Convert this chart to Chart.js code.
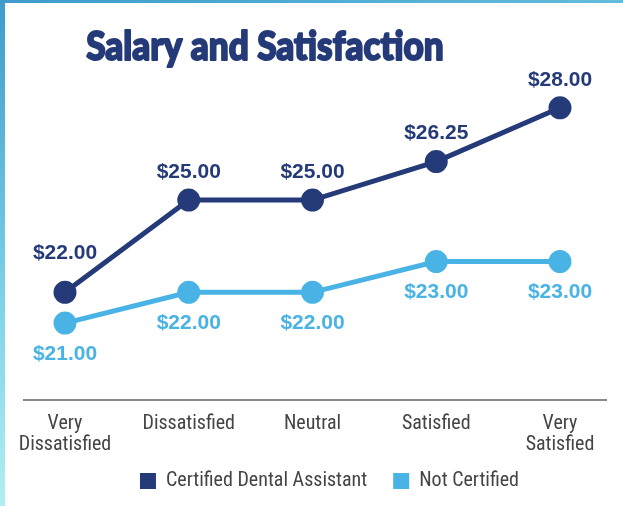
<!DOCTYPE html>
<html>
<head>
<meta charset="utf-8">
<script src="https://cdn.jsdelivr.net/npm/chart.js@4"></script>
<style>
  html, body { margin: 0; padding: 0; background: #fff; }
  #frame {
    position: absolute; left: 0; top: 0; width: 623px; height: 506px;
    background: linear-gradient(180deg, #3e9bcb 0%, #7fd3e8 60%, #b2eef2 100%);
  }
  #topbar {
    position: absolute; left: 0; top: 0; width: 623px; height: 3px;
    background: linear-gradient(90deg, #3e9bcb 0%, #62bddb 100%);
  }
  #box {
    position: absolute; left: 5px; top: 3px; width: 618px; height: 503px; background: #fff;
  }
</style>
</head>
<body>
<div id="frame"></div>
<div id="topbar"></div>
<div id="box"><canvas id="grafico" width="618" height="503"></canvas></div>
<script>
const categorias = [["Very", "Dissatisfied"], "Dissatisfied", "Neutral", "Satisfied", ["Very", "Satisfied"]];
const certificado = [22.00, 25.00, 25.00, 26.25, 28.00];
const naoCertificado = [21.00, 22.00, 22.00, 23.00, 23.00];
const titulo = "Salary and Satisfaction";

const azulEscuro = "#253a78";
const azulClaro = "#4ab3e5";
const fonteEstreita = "'Liberation Sans Narrow', 'Roboto Condensed', 'Arial Narrow', 'Liberation Sans', sans-serif";

const formatarValor = v => "$" + v.toFixed(2);

// titulo, rotulos de valor e linha de base
const rotulos = {
  id: "rotulos",
  afterLayout(chart) {
    // legenda do original: um pouco à direita do centro e mais perto do eixo
    const leg = chart.legend;
    if (leg) {
      leg.left += 17;
      leg.right += 17;
      leg.top -= 23;
      leg.bottom -= 23;
    }
  },
  afterDatasetsDraw(chart) {
    const ctx = chart.ctx;
    ctx.save();
    ctx.font = "bold 21px 'Liberation Sans', Arial, sans-serif";
    ctx.textAlign = "center";
    ctx.textBaseline = "middle";
    chart.data.datasets.forEach((ds, i) => {
      const meta = chart.getDatasetMeta(i);
      ctx.fillStyle = ds.borderColor;
      meta.data.forEach((pt, j) => {
        let dy;
        if (i === 0) dy = j === 0 ? -39 : -28;
        else dy = 31;
        ctx.fillText(formatarValor(ds.data[j]), pt.x, pt.y + dy);
      });
    });
    ctx.restore();
  },
  afterDraw(chart) {
    const ctx = chart.ctx;
    const y = chart.chartArea.bottom;
    ctx.save();
    ctx.strokeStyle = "#8a8a8a";
    ctx.lineWidth = 2;
    ctx.beginPath();
    ctx.moveTo(18, y);
    ctx.lineTo(602, y);
    ctx.stroke();

    // titulo um pouco à esquerda do centro, como no original
    ctx.translate(260, 44);
    ctx.scale(0.88, 1);
    ctx.font = "900 40px Lato, 'Open Sans', sans-serif";
    ctx.textAlign = "center";
    ctx.textBaseline = "middle";
    ctx.fillStyle = azulEscuro;
    ctx.strokeStyle = azulEscuro;
    ctx.lineWidth = 2;
    ctx.lineJoin = "round";
    ctx.fillText(titulo, 0, 0);
    ctx.strokeText(titulo, 0, 0);
    ctx.restore();
  }
};

new Chart(document.getElementById("grafico").getContext("2d"), {
  type: "line",
  data: {
    labels: categorias,
    datasets: [
      {
        label: "Certified Dental Assistant",
        data: certificado,
        borderColor: azulEscuro,
        backgroundColor: azulEscuro,
        borderWidth: 5,
        pointRadius: 9,
        pointHoverRadius: 9,
        fill: false,
      },
      {
        label: "Not Certified",
        data: naoCertificado,
        borderColor: azulClaro,
        backgroundColor: azulClaro,
        borderWidth: 5,
        pointRadius: 9,
        pointHoverRadius: 9,
        fill: false,
      },
    ],
  },
  options: {
    responsive: false,
    animation: false,
    layout: { padding: { left: 60, right: 63, top: 74, bottom: -18 } },
    plugins: {
      legend: {
        position: "bottom",
        labels: {
          boxWidth: 16,
          boxHeight: 16,
          color: "#444",
          padding: 26,
          font: { family: fonteEstreita, size: 20 },
          generateLabels(chart) {
            const itens = Chart.defaults.plugins.legend.labels.generateLabels(chart);
            itens.forEach(it => { it.lineWidth = 0; });
            return itens;
          }
        }
      },
      tooltip: { enabled: false }
    },
    scales: {
      x: {
        offset: false,
        grid: { display: false, drawTicks: false },
        border: { display: false },
        ticks: {
          color: "#444",
          padding: 13,
          maxRotation: 0,
          font: { family: fonteEstreita, size: 20, lineHeight: 1.05 }
        }
      },
      y: {
        display: false,
        min: 18.5,
        max: 29
      }
    }
  },
  plugins: [rotulos]
});
</script>
</body>
</html>
